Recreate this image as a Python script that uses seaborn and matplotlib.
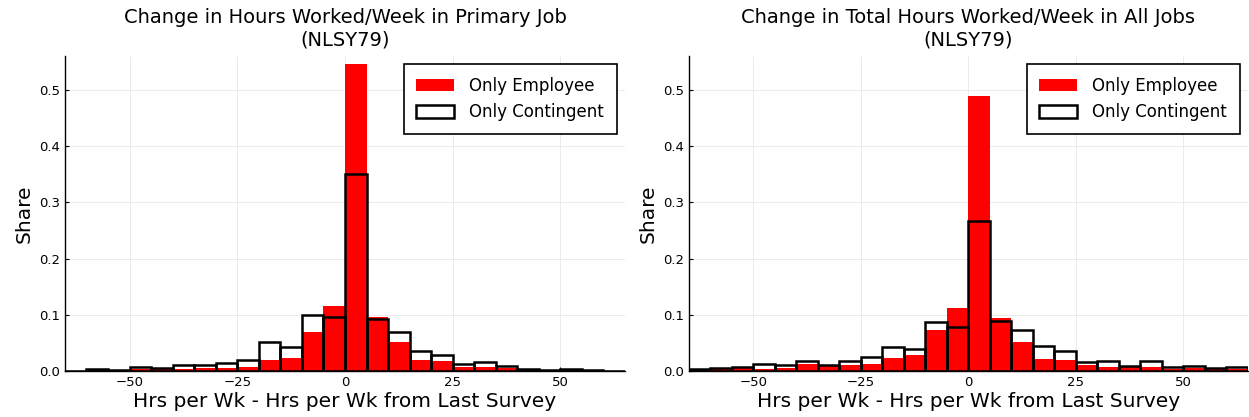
import numpy as np
import pandas as pd
import seaborn as sns
import matplotlib.pyplot as plt
from matplotlib.patches import Patch

# Bin edges (5 hour bins) and bar centres
edges = np.arange(-65, 70, 5)
centers = edges[:-1] + 2.5

# Share of changes, primary job
primary_employee = [0.001, 0.002, 0.001, 0.003, 0.004, 0.0035, 0.005, 0.005, 0.008, 0.020, 0.0225, 0.070, 0.116,
                    0.546, 0.0955, 0.052, 0.020, 0.018, 0.008, 0.0065, 0.0047, 0.002, 0.001, 0.001, 0.001, 0.0005]
primary_contingent = [0.001, 0.004, 0.002, 0.0077, 0.005, 0.0107, 0.0107, 0.0148, 0.0196, 0.051, 0.043, 0.0996, 0.097,
                      0.350, 0.092, 0.069, 0.0356, 0.0285, 0.013, 0.0166, 0.0095, 0.004, 0.002, 0.003, 0.002, 0.001]

# Share of changes, all jobs
all_employee = [0.002, 0.003, 0.0047, 0.003, 0.005, 0.0125, 0.009, 0.0107, 0.012, 0.0237, 0.0285, 0.073, 0.113,
                0.489, 0.094, 0.0516, 0.0213, 0.0196, 0.0107, 0.0077, 0.0065, 0.0065, 0.0035, 0.0047, 0.003, 0.004]
all_contingent = [0.003, 0.0047, 0.0065, 0.012, 0.0107, 0.0178, 0.0107, 0.0184, 0.0243, 0.043, 0.0386, 0.0878, 0.0777,
                  0.267, 0.089, 0.073, 0.0445, 0.0356, 0.016, 0.0184, 0.009, 0.0184, 0.0065, 0.009, 0.005, 0.0077]

titles = ['Change in Hours Worked/Week in Primary Job\n(NLSY79)',
          'Change in Total Hours Worked/Week in All Jobs\n(NLSY79)']
xlabel = 'Hrs per Wk - Hrs per Wk from Last Survey'

sns.set_style('white')
plt.rcParams['font.family'] = ['DejaVu Sans']
plt.rcParams['text.color'] = 'black'
plt.rcParams['axes.labelcolor'] = 'black'

fig = plt.figure(figsize=(12.49, 4.17), dpi=100)
ax1 = fig.add_axes([0.052, 0.110, 0.4484, 0.756])
ax2 = fig.add_axes([0.5516, 0.110, 0.4476, 0.756])

panels = [(ax1, primary_employee, primary_contingent, titles[0]),
          (ax2, all_employee, all_contingent, titles[1])]

for ax, emp, cont, title in panels:
    df = pd.DataFrame({'change': centers, 'emp': emp, 'cont': cont})
    sns.histplot(data=df, x='change', weights='emp', binwidth=5, binrange=(-65, 65), stat='count',
                 element='bars', color='#ff0000', alpha=1, linewidth=0, ax=ax, zorder=2)
    sns.histplot(data=df, x='change', weights='cont', binwidth=5, binrange=(-65, 65), stat='count',
                 element='bars', fill=False, color='black', linewidth=1.8, ax=ax, zorder=3)

    ax.set_xlim(-65, 65)
    ax.set_ylim(0, 0.56)
    ax.set_xticks([-50, -25, 0, 25, 50])
    ax.set_xticklabels(['\u221250', '\u221225', '0', '25', '50'])
    ax.set_yticks([0, 0.1, 0.2, 0.3, 0.4, 0.5])
    ax.set_yticklabels(['0.0', '0.1', '0.2', '0.3', '0.4', '0.5'])
    ax.grid(True, color='#ebebeb', linewidth=0.7, zorder=0)
    ax.set_axisbelow(True)
    ax.tick_params(direction='in', length=3, width=0.8, labelsize=9.5, colors='black', left=True, bottom=True)
    for side in ['top', 'right']:
        ax.spines[side].set_visible(False)
    for side in ['left', 'bottom']:
        ax.spines[side].set_color('black')
        ax.spines[side].set_linewidth(1.0)

    ax.set_title(title, fontsize=14, pad=7.5, linespacing=1.2)
    ax.set_xlabel(xlabel, fontsize=14.5, labelpad=2)
    ax.set_ylabel('Share', fontsize=14.5, labelpad=4)

    handles = [Patch(facecolor='#ff0000', edgecolor='none', label='Only Employee'),
               Patch(facecolor='white', edgecolor='black', linewidth=1.8, label='Only Contingent')]
    leg = ax.legend(handles=handles, loc='upper right', fontsize=12, fancybox=False,
                    framealpha=1, edgecolor='black', borderaxespad=0.5,
                    handlelength=2.3, handleheight=0.8, handletextpad=0.9,
                    borderpad=0.75, labelspacing=0.5)
    leg.get_frame().set_linewidth(1.2)

fig.savefig('out.png', dpi=100)
